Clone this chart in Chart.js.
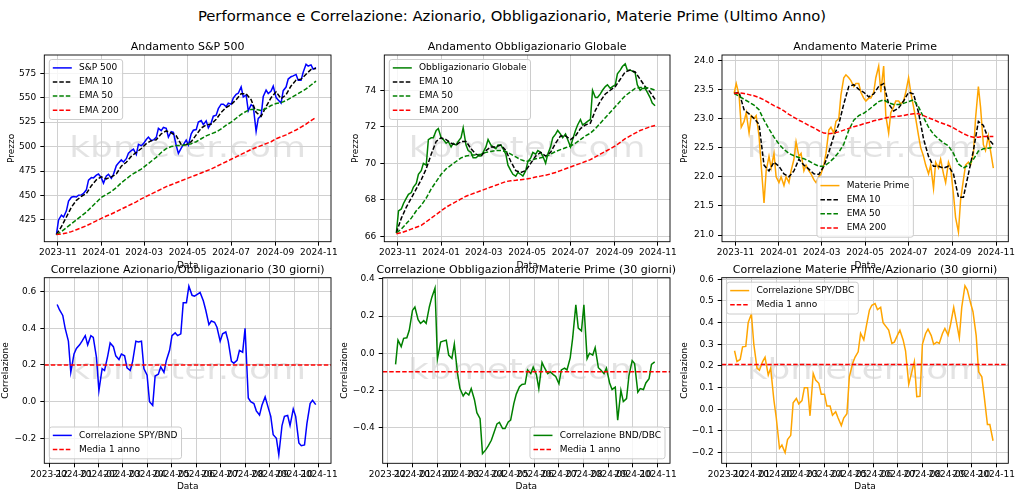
<!DOCTYPE html>
<html>
<head>
<meta charset="utf-8">
<script src="https://cdn.jsdelivr.net/npm/chart.js@4.4.1/dist/chart.umd.min.js"></script>
<style>
  body { margin: 0; background: #fff; width: 1024px; height: 503px; overflow: hidden; position: relative; font-family: "DejaVu Sans", sans-serif; }
  canvas { position: absolute; }
  #suptitle { position: absolute; left: 0; top: 6px; width: 1024px; text-align: center; font-size: 14.8px; line-height: 19px; color: #000; }
</style>
</head>
<body>
<div id="suptitle">Performance e Correlazione: Azionario, Obbligazionario, Materie Prime (Ultimo Anno)</div>
<canvas id="c1"></canvas>
<canvas id="c2"></canvas>
<canvas id="c3"></canvas>
<canvas id="c4"></canvas>
<canvas id="c5"></canvas>
<canvas id="c6"></canvas>
<script>
const firstMonday = '2023-10-30';

const spyPrice = [
  410.0, 425.0, 429.9, 428.0, 434.3, 444.2, 448.2, 448.9, 448.4, 450.3,
  450.6, 452.1, 455.8, 465.7, 468.3, 468.0, 470.8, 471.9, 468.0, 462.6,
  469.9, 471.6, 467.6, 471.7, 480.5, 483.1, 486.4, 484.3, 487.6, 493.3,
  496.0, 497.4, 491.8, 502.4, 500.9, 503.0, 507.2, 509.7, 506.2, 506.8,
  509.5, 518.7, 516.3, 519.6, 518.7, 509.7, 515.2, 514.5, 501.1, 493.0,
  498.4, 502.0, 506.7, 501.6, 513.1, 516.7, 517.4, 525.2, 526.6, 522.5,
  526.3, 519.1, 524.3, 531.1, 532.1, 538.8, 543.4, 543.3, 540.9, 544.5,
  543.4, 549.6, 553.4, 554.6, 561.0, 550.8, 552.8, 536.6, 542.9, 541.2,
  515.6, 528.8, 531.5, 551.2, 557.7, 554.3, 556.8, 561.8, 550.2, 547.7,
  544.5, 557.2, 560.9, 569.1, 571.5, 572.3, 573.8, 567.8, 567.8, 576.1,
  584.3, 582.4, 583.6, 579.2, 580.8
];
const spyEma10 = [
  410, 418, 428, 438, 445, 449, 452, 460, 466, 469,
  467, 469, 472, 480, 484, 490, 494, 498, 503, 506,
  507, 513, 516, 514, 511, 502, 502, 505, 512, 519,
  522, 523, 528, 535, 540, 543, 548, 554, 554, 548,
  535, 531, 541, 550, 556, 549, 553, 562, 568, 569,
  574, 579, 580
];
const spyEma50 = [
  410, 413, 417, 421, 425, 429, 433, 438, 443, 448,
  451, 454, 458, 463, 467, 471, 474, 477, 481, 485,
  489, 494, 498, 500, 501, 501, 502, 503, 505, 508,
  511, 513, 515, 518, 522, 525, 529, 533, 536, 538,
  538, 537, 539, 542, 544, 545, 547, 550, 553, 556,
  559, 563, 567
];
const spyEma200 = [
  410, 410.5, 411.5, 413, 415, 417, 419, 421.5, 424, 426.5,
  429, 431, 433.5, 436, 438.5, 441, 443.5, 446.5, 449, 451.5,
  454, 456.5, 459, 461, 463, 465, 467, 469, 471, 473,
  475, 477, 479.5, 482, 484.5, 487, 489.5, 492, 494.5, 497,
  499, 501, 503, 505, 508, 510, 512, 514.5, 517, 520,
  523, 526.5, 530
];

const bndPrice = [
  66.2, 67.4, 67.5, 67.8, 68.1, 68.3, 68.4, 68.7, 68.9, 69.4,
  69.6, 70.0, 69.9, 71.3, 71.4, 71.4, 71.8, 71.9, 71.4, 71.3,
  71.1, 71.2, 70.9, 71.1, 71.0, 71.2, 71.4, 71.95, 71.0, 70.7,
  70.6, 70.3, 70.3, 70.4, 70.4, 70.6, 70.9, 71.3, 71.0, 70.9,
  70.8, 71.0, 71.0, 70.8, 70.5, 69.9, 69.6, 69.4, 69.3, 69.5,
  69.4, 69.3, 69.6, 70.1, 70.3, 70.6, 70.5, 70.7, 70.6, 70.4,
  70.0, 70.5, 70.9, 71.4, 71.6, 71.8, 71.6, 71.4, 71.6, 71.3,
  70.9, 71.3, 71.8, 72.1, 72.4, 72.1, 72.2, 72.3, 72.4, 74.0,
  73.6, 73.6, 73.8, 74.0, 74.2, 74.3, 74.1, 74.2, 74.3, 74.9,
  75.1, 75.3, 75.45, 75.1, 75.1, 75.05, 74.95, 74.3, 74.0, 74.1,
  74.1, 73.9, 73.6, 73.3, 73.15
];
const bndEma10 = [
  66.2, 67.0, 67.6, 68.1, 68.6, 69.1, 69.7, 70.5, 71.2, 71.4,
  71.3, 71.1, 71.0, 71.2, 71.2, 70.8, 70.5, 70.4, 70.7, 70.9,
  70.9, 71.0, 70.7, 70.1, 69.6, 69.5, 69.6, 70.0, 70.4, 70.6,
  70.4, 70.6, 71.1, 71.5, 71.5, 71.3, 71.5, 71.9, 72.1, 72.2,
  72.9, 73.4, 73.8, 74.0, 74.2, 74.6, 75.0, 75.1, 75.0, 74.6,
  74.2, 73.9, 73.5
];
const bndEma50 = [
  66.2, 66.4, 66.7, 67.0, 67.4, 67.7, 68.1, 68.6, 69.0, 69.4,
  69.7, 69.9, 70.1, 70.3, 70.4, 70.45, 70.45, 70.5, 70.6, 70.65,
  70.7, 70.7, 70.65, 70.5, 70.35, 70.2, 70.1, 70.15, 70.25, 70.3,
  70.35, 70.5, 70.65, 70.75, 70.85, 70.95, 71.1, 71.3, 71.5, 71.65,
  71.9, 72.2, 72.5, 72.8, 73.1, 73.4, 73.7, 73.9, 74.1, 74.15,
  74.15, 74.1, 74.0
];
const bndEma200 = [
  66.15, 66.2, 66.3, 66.4, 66.5, 66.6, 66.8, 67.0, 67.2, 67.4,
  67.6, 67.75, 67.9, 68.05, 68.2, 68.3, 68.4, 68.5, 68.6, 68.7,
  68.8, 68.9, 69.0, 69.05, 69.07, 69.1, 69.13, 69.18, 69.25, 69.3,
  69.35, 69.42, 69.5, 69.6, 69.7, 69.8, 69.9, 70.0, 70.1, 70.2,
  70.35, 70.5, 70.65, 70.8, 70.95, 71.15, 71.35, 71.5, 71.65, 71.8,
  71.9, 72.0, 72.07
];

const dbcPrice = [
  23.43, 23.6, 23.4, 22.85, 22.95, 23.1, 22.75, 23.05, 23.0, 23.05,
  22.7, 22.2, 21.55, 22.1, 22.35, 22.15, 22.4, 22.0, 21.9, 22.0,
  21.85, 22.0, 21.9, 22.1, 22.3, 22.6, 22.35, 22.4, 22.1, 22.2,
  22.1, 22.05, 21.95, 21.9, 22.0, 22.05, 22.2, 22.4, 22.8, 22.85,
  22.75, 22.95, 23.0, 23.4, 23.7, 23.75, 23.7, 23.65, 23.55, 23.6,
  23.6, 23.45, 23.35, 23.3, 23.35, 23.35, 23.45, 23.7, 23.9, 23.45,
  23.9, 23.05, 22.75, 23.1, 23.2, 23.3, 23.3, 23.25, 23.3, 23.45,
  23.7, 23.45, 23.2, 23.0, 22.7, 22.5, 22.35, 22.2, 22.05, 22.2,
  21.8, 22.25, 22.15, 22.3, 22.05, 21.9, 22.25, 22.15, 21.7, 21.3,
  21.05, 21.6, 21.95, 22.2, 22.25, 22.2, 22.4, 23.0, 23.55, 23.2,
  22.55, 22.45, 22.7, 22.45, 22.15
];
const dbcEma10 = [
  23.43, 23.45, 23.15, 23.08, 23.0, 22.9, 22.2, 22.1, 22.25, 22.18,
  22.05, 22.0, 22.1, 22.3, 22.2, 22.13, 22.05, 22.04, 22.18, 22.42,
  22.7, 22.9, 23.25, 23.55, 23.58, 23.5, 23.45, 23.37, 23.42, 23.55,
  23.6, 23.25, 23.13, 23.18, 23.3, 23.45, 23.42, 23.1, 22.65, 22.35,
  22.18, 22.18, 22.15, 22.18, 22.05, 21.65, 21.65, 22.05, 22.45, 22.95,
  22.88, 22.65, 22.55
];
const dbcEma50 = [
  23.43, 23.38, 23.33, 23.28, 23.23, 23.15, 22.97, 22.82, 22.68, 22.56,
  22.47, 22.4, 22.36, 22.33, 22.31, 22.27, 22.22, 22.18, 22.18, 22.24,
  22.32, 22.42, 22.56, 22.8, 22.97, 23.05, 23.09, 23.15, 23.22, 23.29,
  23.32, 23.27, 23.24, 23.24, 23.26, 23.29, 23.32, 23.2, 23.02, 22.85,
  22.73, 22.65, 22.58, 22.53, 22.4, 22.22, 22.15, 22.2, 22.3, 22.44,
  22.48, 22.49, 22.51
];
const dbcEma200 = [
  23.43, 23.44, 23.43, 23.41, 23.39, 23.36, 23.32, 23.27, 23.22, 23.18,
  23.13, 23.07, 23.02, 22.97, 22.93, 22.88, 22.84, 22.79, 22.75, 22.74,
  22.75, 22.77, 22.8, 22.83, 22.86, 22.88, 22.91, 22.93, 22.96, 22.98,
  23.0, 23.02, 23.03, 23.04, 23.05, 23.07, 23.08, 23.08, 23.05, 23.01,
  22.98, 22.94, 22.91, 22.88, 22.84, 22.79, 22.74, 22.7, 22.68, 22.68,
  22.69, 22.69, 22.69
];

const corrSpyBnd = [
  0.53, 0.50, 0.47, 0.40, 0.33, 0.16, 0.26, 0.29, 0.31, 0.33,
  0.36, 0.31, 0.36, 0.35, 0.24, 0.06, 0.18, 0.17, 0.25, 0.32,
  0.30, 0.25, 0.23, 0.26, 0.25, 0.185, 0.17, 0.22, 0.33, 0.325,
  0.33, 0.18, 0.144, 0.00, -0.02, 0.14, 0.15, 0.19, 0.16, 0.225,
  0.28, 0.36, 0.375, 0.36, 0.37, 0.54, 0.54, 0.63, 0.58, 0.575,
  0.587, 0.596, 0.55, 0.50, 0.42, 0.44, 0.433, 0.406, 0.33, 0.37,
  0.38, 0.33, 0.22, 0.21, 0.225, 0.28, 0.27, 0.40, 0.02, 0.00,
  -0.01, -0.05, -0.073, -0.02, 0.026, -0.02, -0.08, -0.18, -0.20, -0.29,
  -0.13, -0.08, -0.075, -0.13, -0.04, -0.08, -0.225, -0.24, -0.236, -0.12,
  -0.01, 0.008, -0.016
];
const corrBndDbc = [
  -0.06, 0.07, 0.035, 0.08, 0.083, 0.123, 0.23, 0.248, 0.18, 0.16,
  0.175, 0.16, 0.25, 0.30, 0.35, -0.03, 0.06, 0.065, 0.07, -0.01,
  -0.028, 0.05, -0.11, -0.19, -0.23, -0.21, -0.225, -0.19, -0.25, -0.32,
  -0.352, -0.54, -0.52, -0.50, -0.468, -0.43, -0.38, -0.372, -0.405, -0.405,
  -0.37, -0.36, -0.27, -0.22, -0.18, -0.168, -0.165, -0.09, -0.11, -0.074,
  -0.115, -0.19, -0.05, -0.078, -0.11, -0.10, -0.115, -0.125, -0.164, -0.09,
  -0.08, -0.09, -0.025, 0.08, 0.26, 0.135, 0.12, 0.26, -0.029, 0.0,
  -0.01, 0.03, -0.078, -0.09, -0.11, -0.08, -0.16, -0.195, -0.182, -0.36,
  -0.20, -0.26, -0.244, -0.12, -0.04, -0.056, -0.209, -0.19, -0.195, -0.16,
  -0.137, -0.06, -0.047
];
const corrSpyDbc = [
  0.27, 0.22, 0.23, 0.288, 0.29, 0.40, 0.44, 0.30, 0.19, 0.18,
  0.22, 0.24, 0.158, 0.19, 0.043, -0.04, -0.18, -0.165, -0.20, -0.14,
  -0.12, 0.03, 0.05, 0.025, 0.04, 0.10, 0.10, -0.03, 0.165, 0.135,
  0.12, 0.07, 0.07, 0.015, 0.015, -0.027, -0.011, -0.04, -0.075, -0.04,
  -0.02, 0.15, 0.21, 0.24, 0.265, 0.35, 0.32, 0.38, 0.457, 0.48,
  0.488, 0.46, 0.47, 0.40, 0.38, 0.365, 0.304, 0.31, 0.342, 0.365,
  0.32, 0.27, 0.115, 0.16, 0.22, 0.058, 0.06, 0.30, 0.35, 0.37,
  0.34, 0.30, 0.31, 0.304, 0.35, 0.373, 0.342, 0.39, 0.47, 0.41,
  0.33, 0.47, 0.57, 0.55, 0.49, 0.45, 0.34, 0.173, 0.15, 0.06,
  -0.07, -0.07, -0.145
];
const meanSpyBnd = 0.20;
const meanBndDbc = -0.10;
const meanSpyDbc = 0.207;

const priceTickLabels = ['2023-11', '2024-01', '2024-03', '2024-05', '2024-07', '2024-09', '2024-11'];
const corrTickLabels = ['2023-12', '2024-01', '2024-02', '2024-03', '2024-04', '2024-05',
                        '2024-06', '2024-07', '2024-08', '2024-09', '2024-10', '2024-11'];
const spyTicks = [425, 450, 475, 500, 525, 550, 575];
const bndTicks = [66, 68, 70, 72, 74];
const dbcTicks = [21.0, 21.5, 22.0, 22.5, 23.0, 23.5, 24.0];
const corr1Ticks = [-0.2, 0.0, 0.2, 0.4, 0.6];
const corr2Ticks = [-0.4, -0.2, 0.0, 0.2, 0.4];
const corr3Ticks = [-0.2, -0.1, 0.0, 0.1, 0.2, 0.3, 0.4, 0.5, 0.6];

// ---- helpers ----
function dayOf(s) {
  const [y, m, d] = s.split('-').map(Number);
  return Date.UTC(y, m - 1, d) / 864e5;
}
// sample calendar: Monday of week k (and its Thursday)
function gridDays(k0, k1, withThu) {
  const mon0 = dayOf(firstMonday), out = [];
  for (let k = k0; k <= k1; k++) {
    out.push(mon0 + 7 * k);
    if (withThu && k < k1) out.push(mon0 + 7 * k + 3);
  }
  return out;
}
const priceDays = gridDays(0, 52, true);
const emaDays = gridDays(0, 52, false);
const corrDays = gridDays(6, 52, true);

const priceRange = [dayOf('2023-10-13'), dayOf('2024-11-18')];
const corrRange = [dayOf('2023-11-25'), dayOf('2024-11-16')];

function fmt(v, dec) { return v.toFixed(dec).replace('-', '\u2212'); }

function line(label, days, vals, color, dashed, order) {
  return {
    label, data: vals.map((v, i) => ({ x: days[i], y: v })),
    borderColor: color, borderWidth: 1.5, borderDash: dashed ? [4.5, 2] : [],
    pointRadius: 0, tension: 0, fill: false, order
  };
}

Chart.defaults.font.family = '"DejaVu Sans", sans-serif';
Chart.defaults.font.size = 9;
Chart.defaults.color = '#000';

const TITLE_H = 20, XAX_H = 29, GRID = '#d0d0d0';

const deco = {
  id: 'deco',
  beforeDraw(chart) {
    const a = chart.chartArea, c = chart.ctx;
    c.save();
    c.fillStyle = 'rgba(0,0,0,0.11)';
    c.font = '29px "DejaVu Sans"';
    c.textAlign = 'center';
    c.textBaseline = 'alphabetic';
    c.translate((a.left + a.right) / 2, (a.top + a.bottom) / 2 + 8.3);
    c.scale(1.24, 1);
    c.fillText('kbmeter.com', 0, 0);
    c.restore();
  },
  afterDraw(chart) {
    const a = chart.chartArea, c = chart.ctx;
    const opts = chart.options.plugins.deco;
    c.save();
    // subplot title, centred on the axes box
    c.fillStyle = '#000';
    c.font = '11px "DejaVu Sans"';
    c.textAlign = 'center';
    c.textBaseline = 'alphabetic';
    c.fillText(opts.title, (a.left + a.right) / 2, a.top - 4.6);
    c.strokeStyle = '#000';
    c.lineWidth = 0.9;
    c.strokeRect(a.left, a.top, a.right - a.left, a.bottom - a.top);
    // legend, matplotlib style
    const loc = opts.loc;
    const items = chart.data.datasets;
    c.font = '9px "DejaVu Sans"';
    const tw = Math.max(...items.map(d => c.measureText(d.label).width));
    const bw = 29.7 + tw + 4, rowH = 14.1, bh = 17.7 + (items.length - 1) * rowH;
    const y0 = loc.startsWith('upper') ? a.top + 4.5 : a.bottom - 4.5 - bh;
    let x0 = (a.left + a.right) / 2 - bw / 2;
    if (loc.endsWith('left')) x0 = a.left + 5;
    if (loc.endsWith('right')) x0 = a.right - 5 - bw;
    c.beginPath();
    if (c.roundRect) c.roundRect(x0, y0, bw, bh, 2.5); else c.rect(x0, y0, bw, bh);
    c.fillStyle = 'rgba(255,255,255,0.8)';
    c.fill();
    c.strokeStyle = '#cccccc';
    c.lineWidth = 1;
    c.stroke();
    items.forEach((d, i) => {
      const y = y0 + 8.4 + i * rowH;
      c.beginPath();
      c.setLineDash(d.borderDash);
      c.strokeStyle = d.borderColor;
      c.lineWidth = d.borderWidth;
      c.moveTo(x0 + 3.5, y);
      c.lineTo(x0 + 22.5, y);
      c.stroke();
      c.setLineDash([]);
      c.fillStyle = '#000';
      c.textAlign = 'left';
      c.textBaseline = 'middle';
      c.fillText(d.label, x0 + 29.7, y);
    });
    c.restore();
  }
};

function makeChart(p) {
  const cv = document.getElementById(p.id);
  const axW = p.axR - p.axL, axH = p.axB - p.axT;
  const left = Math.floor(p.axL - p.yW), top = Math.floor(p.axT - TITLE_H);
  const padL = p.axL - p.yW - left, padT = p.axT - TITLE_H - top;
  const W = Math.ceil(padL + p.yW + axW + 16), H = Math.ceil(padT + TITLE_H + axH + XAX_H);
  cv.width = W; cv.height = H;
  cv.style.left = left + 'px'; cv.style.top = top + 'px';
  const grid = { color: GRID, lineWidth: 1, drawTicks: true, tickLength: 4, tickColor: '#000', tickWidth: 1 };
  new Chart(cv, {
    type: 'line',
    data: { datasets: p.datasets },
    plugins: [deco],
    options: {
      responsive: false, animation: false, events: [],
      layout: { padding: { left: padL, top: padT + TITLE_H, right: W - padL - p.yW - axW, bottom: H - padT - TITLE_H - axH - XAX_H } },
      plugins: {
        legend: { display: false }, tooltip: { enabled: false }, title: { display: false },
        deco: { loc: p.legend, title: p.title }
      },
      scales: {
        x: {
          type: 'linear', min: p.xRange[0], max: p.xRange[1],
          afterBuildTicks: s => { s.ticks = p.xLabels.map(l => ({ value: dayOf(l + '-01') })); },
          afterFit: s => { s.height = XAX_H; },
          ticks: { autoSkip: false, maxRotation: 0, minRotation: 0, padding: 2, callback: (v, i) => p.xLabels[i] },
          grid, border: { display: false },
          title: { display: true, text: 'Data', padding: 0 }
        },
        y: {
          type: 'linear', min: p.yRange[0], max: p.yRange[1],
          afterBuildTicks: s => { s.ticks = p.yTicks.map(v => ({ value: v })); },
          afterFit: s => { s.width = p.yW; },
          ticks: { padding: 4, callback: (v, i) => fmt(p.yTicks[i], p.dec) },
          grid, border: { display: false },
          title: { display: true, text: p.yTitle, padding: 0 }
        }
      }
    }
  });
}

const topRow = { axT: 55, axB: 241.7, xRange: priceRange, xLabels: priceTickLabels, yTitle: 'Prezzo' };
const botRow = { axT: 277.7, axB: 463.3, xRange: corrRange, xLabels: corrTickLabels, yTitle: 'Correlazione', dec: 1 };

makeChart(Object.assign({}, topRow, {
  id: 'c1', axL: 44.3, axR: 331, yW: 38, title: 'Andamento S&P 500',
  yRange: [402.7, 593.7], yTicks: spyTicks, dec: 0, legend: 'upper left',
  datasets: [
    line('S&P 500', priceDays, spyPrice, '#0000ff', false, 4),
    line('EMA 10', emaDays, spyEma10, '#000000', true, 3),
    line('EMA 50', emaDays, spyEma50, '#008000', true, 2),
    line('EMA 200', emaDays, spyEma200, '#ff0000', true, 1)
  ]
}));
makeChart(Object.assign({}, topRow, {
  id: 'c2', axL: 384.3, axR: 670, yW: 34, title: 'Andamento Obbligazionario Globale',
  yRange: [65.71, 75.93], yTicks: bndTicks, dec: 0, legend: 'upper left',
  datasets: [
    line('Obbligazionario Globale', priceDays, bndPrice, '#008000', false, 4),
    line('EMA 10', emaDays, bndEma10, '#000000', true, 3),
    line('EMA 50', emaDays, bndEma50, '#008000', true, 2),
    line('EMA 200', emaDays, bndEma200, '#ff0000', true, 1)
  ]
}));
makeChart(Object.assign({}, topRow, {
  id: 'c3', axL: 722, axR: 1008.3, yW: 42.4, title: 'Andamento Materie Prime',
  yRange: [20.885, 24.09], yTicks: dbcTicks, dec: 1, legend: 'lower center',
  datasets: [
    line('Materie Prime', priceDays, dbcPrice, '#ffa500', false, 4),
    line('EMA 10', emaDays, dbcEma10, '#000000', true, 3),
    line('EMA 50', emaDays, dbcEma50, '#008000', true, 2),
    line('EMA 200', emaDays, dbcEma200, '#ff0000', true, 1)
  ]
}));
makeChart(Object.assign({}, botRow, {
  id: 'c4', axL: 44.3, axR: 331, yW: 43.7, title: 'Correlazione Azionario/Obbligazionario (30 giorni)',
  yRange: [-0.336, 0.676], yTicks: corr1Ticks, legend: 'lower left',
  datasets: [
    line('Correlazione SPY/BND', corrDays, corrSpyBnd, '#0000ff', false, 2),
    line('Media 1 anno', corrRange, [meanSpyBnd, meanSpyBnd], '#ff0000', true, 1)
  ]
}));
makeChart(Object.assign({}, botRow, {
  id: 'c5', axL: 382.7, axR: 670, yW: 43.1, title: 'Correlazione Obbligazionario/Materie Prime (30 giorni)',
  yRange: [-0.592, 0.406], yTicks: corr2Ticks, legend: 'lower right',
  datasets: [
    line('Correlazione BND/DBC', corrDays, corrBndDbc, '#008000', false, 2),
    line('Media 1 anno', corrRange, [meanBndDbc, meanBndDbc], '#ff0000', true, 1)
  ]
}));
makeChart(Object.assign({}, botRow, {
  id: 'c6', axL: 721.7, axR: 1008.3, yW: 42.1, title: 'Correlazione Materie Prime/Azionario (30 giorni)',
  yRange: [-0.249, 0.607], yTicks: corr3Ticks, legend: 'upper left',
  datasets: [
    line('Correlazione SPY/DBC', corrDays, corrSpyDbc, '#ffa500', false, 2),
    line('Media 1 anno', corrRange, [meanSpyDbc, meanSpyDbc], '#ff0000', true, 1)
  ]
}));
</script>
</body>
</html>
